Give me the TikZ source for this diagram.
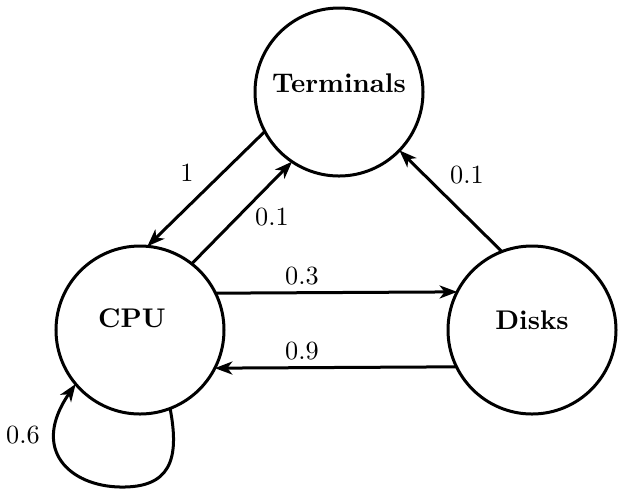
\documentclass[tikz,border=0pt]{standalone}
\usetikzlibrary{arrows.meta}
\begin{document}
\begin{tikzpicture}[x=0.4pt,y=-0.4pt,
  state/.style={circle,draw,line width=1.2pt,minimum size=67.2pt,inner sep=0pt,outer sep=0pt},
  statetext/.style={font=\fontsize{10.8}{13}\selectfont\bfseries},
  prob/.style={font=\fontsize{10.5}{12}\selectfont,inner sep=0pt},
  conn/.style={line width=1.2pt,-{Stealth[length=7pt,width=5.2pt,inset=2pt]}}]
\useasboundingbox (0,0) rectangle (620,496);
\node[state,label={[statetext,yshift=3.6pt]center:Terminals}] (T) at (339,92) {};
\node[state,label={[statetext,yshift=4.8pt,xshift=-3.2pt]center:CPU}] (C) at (140,330) {};
\node[state,label={[statetext,yshift=4pt]center:Disks}] (D) at (532,330) {};
\draw[conn] (T.208.3) -- (C.85.3);
\draw[conn] (C.52.6) -- (T.236.8);
\draw[conn] (D.111) -- (T.316.4);
\draw[conn] (C.26.1) -- (D.153.9);
\draw[conn] (D.206.9) -- (C.333.1);
\coordinate (lb) at (120,487);
\draw[line width=1.2pt] (C.291.2) .. controls (180,460) and (170,488) .. (lb);
\draw[conn] (lb) .. controls (70,486) and (30,450) .. (C.220.5);
\node[prob] (l1) at (187,173) {1};
\node[prob] (l2) at (272,217) {0.1};
\node[prob] (l3) at (467,175) {0.1};
\node[prob] (l4) at (302,276) {0.3};
\node[prob] (l5) at (302,351) {0.9};
\node[prob] (l6) at (23,435) {0.6};
\end{tikzpicture}
\end{document}
